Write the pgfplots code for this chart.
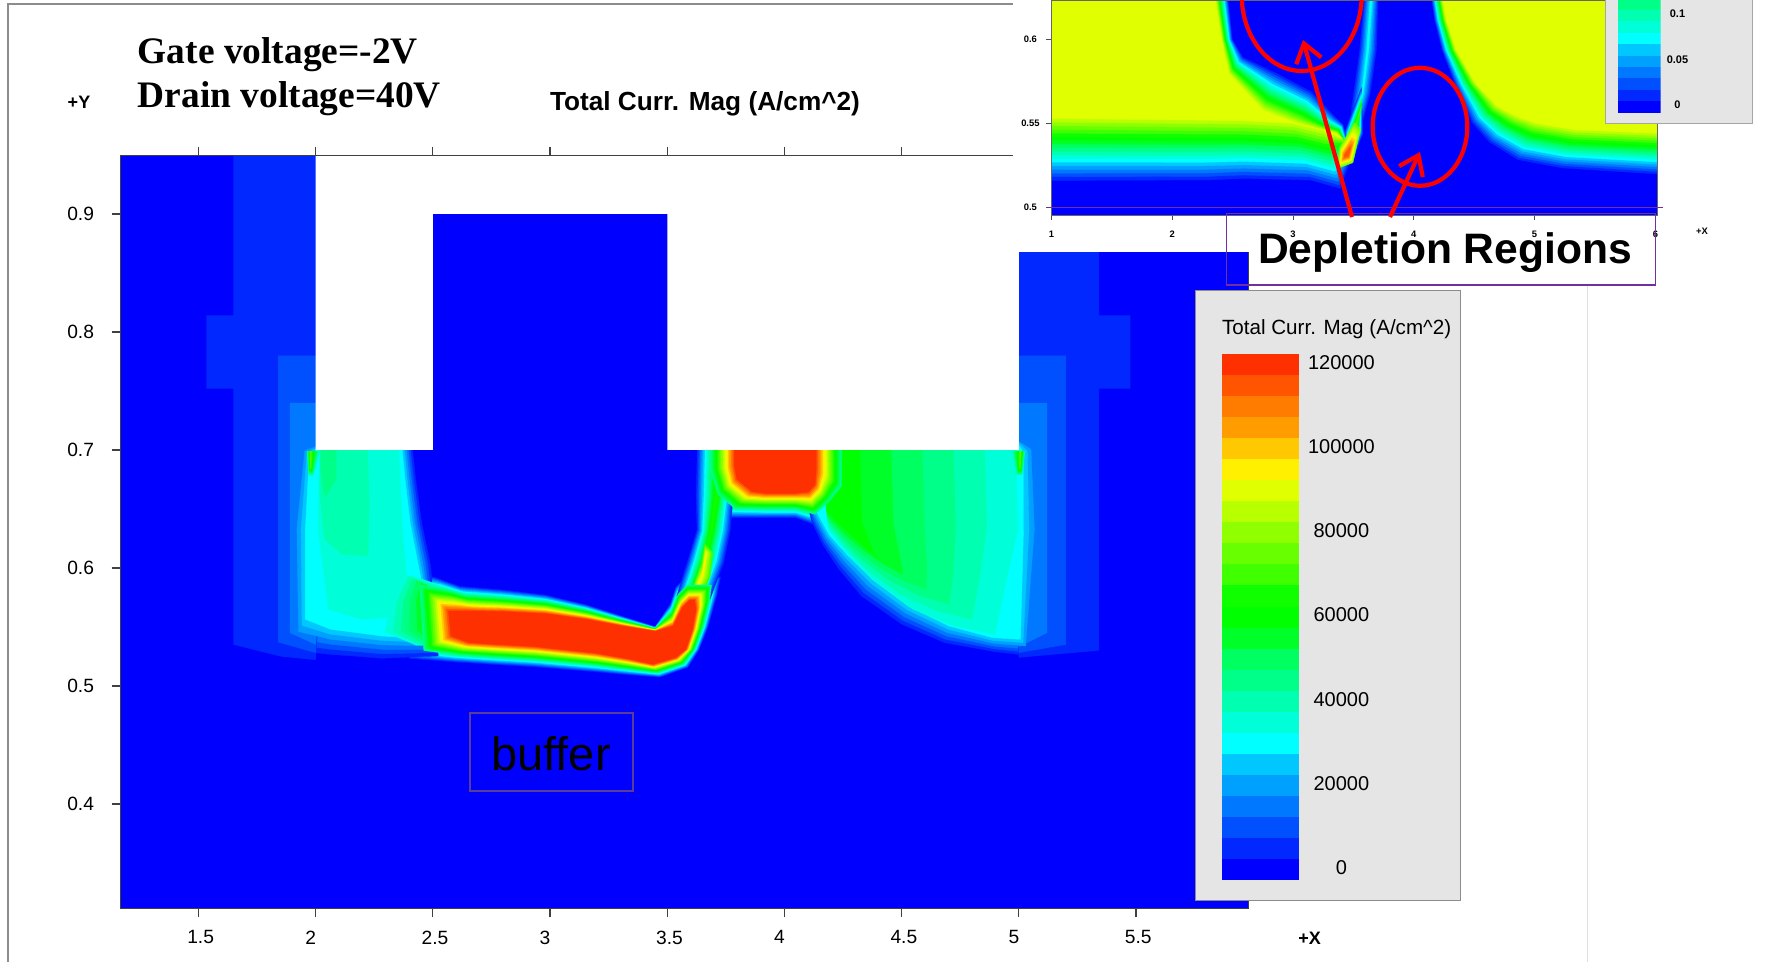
\documentclass[border=0pt]{standalone}
\usepackage{pgfplots}
\pgfplotsset{compat=1.18}
\usepackage{pgfplotstable}
\usepackage{fontspec}
\setmainfont{Liberation Sans}
\newfontfamily\timesb[BoldFont={Liberation Serif Bold}]{Liberation Serif}
\usetikzlibrary{arrows.meta}
% the 25 bands of the colour legend
\definecolor{c0}{HTML}{0000FF}\definecolor{c1}{HTML}{0028FF}\definecolor{c2}{HTML}{0050FF}
\definecolor{c3}{HTML}{0078FF}\definecolor{c4}{HTML}{00A0FF}\definecolor{c5}{HTML}{00C8FF}
\definecolor{c6}{HTML}{00FFFF}\definecolor{c7}{HTML}{00FFD8}\definecolor{c8}{HTML}{00FFB0}
\definecolor{c9}{HTML}{00FF88}\definecolor{c10}{HTML}{00FF60}\definecolor{c11}{HTML}{00FF28}
\definecolor{c12}{HTML}{00FF00}\definecolor{c13}{HTML}{10FF00}\definecolor{c14}{HTML}{40FF00}
\definecolor{c15}{HTML}{68FF00}\definecolor{c16}{HTML}{90FF00}\definecolor{c17}{HTML}{B8FF00}
\definecolor{c18}{HTML}{E0FF00}\definecolor{c19}{HTML}{FFF000}\definecolor{c20}{HTML}{FFC800}
\definecolor{c21}{HTML}{FF9C00}\definecolor{c22}{HTML}{FF7C00}\definecolor{c23}{HTML}{FF5500}
\definecolor{c24}{HTML}{FF3000}
\definecolor{purp}{HTML}{7030A0}
\definecolor{boxpurp}{HTML}{5A3C9C}
\pgfplotstableset{header=false}
% contour pairs: outer contour (col 1,2), inner contour (col 3,4)
\pgfplotstableread{
240 420 330 545
300 440 360 545
350 468 380 545
440 480 440 547
520 495 520 553
600 525 600 570
670 560 670 590
735 592 735 606
765 520 770 590
775 470 788 535
795 440 803 512
865 440 812 512
858 490 815 540
840 590 808 600
822 660 795 660
800 715 775 685
745 745 730 705
680 738 680 688
620 730 620 672
500 715 500 652
420 708 420 645
340 700 370 640
250 690 335 620
}\chan
\pgfplotstableread{
270 440 300 490
310 460 320 500
310 650 320 635
260 650 300 635
190 610 285 600
205 520 280 510
235 430 285 465
}\chanl
\pgfplotstableread{
815 20 890 20
815 130 890 110
835 220 895 150
870 268 925 187
950 268 950 192
1010 268 1010 192
1055 295 1035 188
1090 250 1048 165
1130 200 1050 120
1130 20 1050 20
}\drain
\pgfplotstableread{
815 20 855 20
812 200 852 200
815 300 842 310
795 400 830 390
775 500 805 500
845 510 810 500
872 400 834 390
885 300 846 310
890 200 858 200
890 20 860 20
}\ridge
\pgfplotstableread{
824 400 830 430
800 510 806 500
825 520 810 500
846 440 826 440
850 370 834 370
832 340 834 370
}\ridgey
\pgfplotstableread{
30 50 58 72
70 30 72 62
262 40 238 40
270 150 245 150
282 280 255 280
300 410 270 400
312 690 300 630
200 700 200 620
100 690 100 600
10 680 50 570
0 300 50 300
}\leftblock
\pgfplotstableread{
78 40 85 40
232 40 110 40
240 300 110 150
255 560 90 200
160 570 85 180
95 540 80 120
75 300 80 60
}\leftin
\pgfplotstableread{
1020 30 1020 30
1020 150 1030 150
1040 285 1050 245
1060 350 1075 315
1090 425 1110 375
1135 510 1160 450
1215 595 1230 530
1300 650 1310 590
1400 675 1395 625
1480 690 1450 630
1520 300 1456 300
1500 40 1456 70
1440 30 1440 30
}\rightblock
\pgfplotstableread{
1065 30 1065 30
1440 30 1135 30
1445 300 1140 280
1420 470 1165 380
1400 615 1175 390
1320 590 1150 360
1240 540 1120 320
1160 450 1095 285
1110 370 1080 260
1075 300 1070 245
}\rightin
\pgfplotstableread{
52 66 60 66
56 140 60 115
66 140 60 115
80 66 60 66
}\cornerl
\pgfplotstableread{
1432 66 1450 66
1442 140 1449 115
1454 140 1449 115
1460 66 1450 66
}\cornerr
% inset contour pairs
\pgfplotstableread{
90 -20 90 -20
468 -20 440 -20
478 120 455 120
500 170 470 220
570 215 540 330
640 270 610 370
690 350 650 385
704 372 690 400
722 470 702 415
700 575 660 390
640 550 600 370
500 545 500 362
430 550 400 360
90 552 90 355
}\inleft
\pgfplotstableread{
882 -20 905 -20
890 60 915 60
905 150 935 150
930 250 975 250
965 370 1020 320
1000 430 1060 350
1060 485 1100 370
1150 510 1180 390
1360 530 1360 400
1360 -20 1360 -20
}\inright
\pgfplotstableread{
745 -20 760 -20
735 150 752 150
722 280 742 280
715 370 730 370
745 370 730 370
762 280 745 280
775 150 756 150
778 -20 764 -20
}\inrA
\pgfplotstableread{
741 260 741 320
705 400 725 390
695 470 712 470
722 490 712 470
745 400 730 390
}\inrB
\pgfplotstableread{
728 360 718 440
695 440 706 465
690 510 706 472
725 490 714 470
742 380 720 440
}\inrC
% #1 table, levels #2..#3 drawn, the outer contour being level #4 and the inner one level #5
\newcommand\mm[5]{\pgfplotsinvokeforeach{#2,...,#3}{%
 \addplot[draw=c##1,line width=0.2pt,fill=c##1] table[
  x expr={2+(\thisrowno{0}+(\thisrowno{2}-\thisrowno{0})*(##1-#4)/(#5-#4)-70)/459},
  y expr={0.7-(\thisrowno{1}+(\thisrowno{3}-\thisrowno{1})*(##1-#4)/(#5-#4)-62)/3540}]{#1} --cycle;}}
\newcommand\mi[5]{\pgfplotsinvokeforeach{#2,...,#3}{%
 \addplot[draw=c##1,line width=0.2pt,fill=c##1] table[
  x expr={1+(\thisrowno{0}+(\thisrowno{2}-\thisrowno{0})*(##1-#4)/(#5-#4)-106)/247.5},
  y expr={0.6-(\thisrowno{1}+(\thisrowno{3}-\thisrowno{1})*(##1-#4)/(#5-#4)-118)/5040}]{#1} --cycle;}}
\begin{document}
\begin{tikzpicture}
\path[use as bounding box] (0,0) rectangle (883.5pt,481pt);
\clip (0,0) rectangle (883.5pt,481pt);
\fill[white] (0,0) rectangle (883.5pt,481pt);
\begin{scope}[x=0.5pt,y=-0.5pt,shift={(0pt,481pt)}]
\draw[black!45,line width=1pt] (8,962) -- (8,4) -- (1013,4);
\draw[black!12,line width=0.5pt] (1587,285) -- (1587,962);
\end{scope}
% ---- main map
\begin{axis}[at={(60.3pt,26.8pt)},anchor=south west,scale only axis,width=564pt,height=376.4pt,
 xmin=1.168,xmax=5.98,ymin=0.3115,ymax=0.9495,axis on top,
 axis line style={draw=black!75,line width=0.7pt},
 tick style={draw=black!75,line width=0.6pt},major tick length=4.5pt,tick align=outside,
 xtick={1.5,2,2.5,3,3.5,4,4.5,5,5.5},xtick pos=both,xticklabel pos=lower,
 xticklabels={\kern2.2pt 1.5,2\kern5pt,\kern2.2pt 2.5,3\kern5pt,\kern2.2pt 3.5,4\kern5pt,\kern2.2pt 4.5,5\kern5pt,\kern2.2pt 5.5},
 ytick={0.4,0.5,0.6,0.7,0.8,0.9},ytick pos=left,
 yticklabels={0.4,0.5,0.6,0.7,0.8,0.9},
 tick label style={font=\fontsize{9.6}{10}\selectfont},
 xticklabel style={anchor=center,yshift=-10pt},
 yticklabel style={anchor=center,xshift=-15.5pt}]
\addplot[fill=c0,draw=none] coordinates {(1.1,0.3)(6,0.3)(6,1)(1.1,1)} --cycle;
% low levels of the hot regions
\mm{\chan}{1}{8}{0}{24}
\mm{\drain}{1}{8}{0}{24}
\mm{\leftblock}{1}{3}{0}{6}
\mm{\rightblock}{1}{3}{0}{6}
% outer shades
\addplot[fill=c1,draw=none] coordinates {(1.649,0.96)(1.649,0.814)(1.534,0.814)(1.534,0.752)(1.649,0.752)(1.649,0.535)(1.85,0.525)(2,0.522)(2.03,0.6)(2.03,0.96)} --cycle;
\addplot[fill=c1,draw=none] coordinates {(4.97,0.96)(5.341,0.96)(5.341,0.814)(5.476,0.814)(5.476,0.752)(5.341,0.752)(5.341,0.53)(5,0.524)(4.97,0.6)} --cycle;
\addplot[fill=c2,draw=none] coordinates {(1.84,0.78)(2.03,0.78)(2.03,0.6)(2,0.528)(1.84,0.537)} --cycle;
\addplot[fill=c2,draw=none] coordinates {(4.97,0.78)(5.2,0.78)(5.2,0.535)(5,0.528)(4.97,0.6)} --cycle;
\addplot[fill=c3,draw=none] coordinates {(1.89,0.74)(2.03,0.74)(2.03,0.6)(2,0.535)(1.89,0.545)} --cycle;
\addplot[fill=c3,draw=none] coordinates {(4.97,0.74)(5.12,0.74)(5.12,0.545)(5,0.533)(4.97,0.6)} --cycle;
% side blocks
\mm{\leftblock}{4}{6}{0}{6}
\mm{\rightblock}{4}{6}{0}{6}
\mm{\leftin}{7}{9}{7}{9}
\mm{\chanl}{7}{12}{6}{12}
\mm{\rightin}{7}{12}{7}{12}
\mm{\cornerl}{8}{15}{7}{15}
\mm{\cornerr}{8}{15}{7}{15}
% ridge and hot regions
\mm{\ridge}{1}{13}{0}{13}
\mm{\drain}{9}{24}{0}{24}
\mm{\ridgey}{14}{19}{13}{19}
\mm{\chan}{9}{24}{0}{24}
% regions of the map that are absent
\addplot[fill=white,draw=none] coordinates {(2,0.7)(2.5,0.7)(2.5,0.9)(3.5,0.9)(3.5,0.7)(5,0.7)(5,1)(2,1)} --cycle;
\end{axis}
\begin{scope}[x=0.5pt,y=-0.5pt,shift={(0pt,481pt)}]
\fill[white] (1013,-2) rectangle (1769,252);
\node[anchor=base west,inner sep=0pt,font=\timesb\bfseries\fontsize{18.7}{20}\selectfont] at (137.5,63.5) {Gate voltage=-2V};
\node[anchor=base west,inner sep=0pt,font=\timesb\bfseries\fontsize{18.7}{20}\selectfont] at (137.5,107.5) {Drain voltage=40V};
\node[font=\bfseries\fontsize{13.1}{14}\selectfont] at (705,103.5) {Total Curr. Mag (A/cm\^{}2)};
\node[font=\bfseries\fontsize{9}{10}\selectfont] at (79,102.5) {+Y};
\node[font=\bfseries\fontsize{9}{10}\selectfont] at (1309.6,938.8) {+X};
\draw[draw=boxpurp,line width=1.3pt] (470,713) rectangle (633,791);
\node[font=\fontsize{23.5}{26}\selectfont] at (551,754) {buffer};
\end{scope}
% ---- inset map
\begin{axis}[at={(525.7pt,373.5pt)},anchor=south west,scale only axis,width=303.2pt,height=107.5pt,
 xmin=1,xmax=6.02,ymin=0.4955,ymax=0.6234,axis on top,
 axis line style={draw=black!60,line width=0.4pt},
 tick style={draw=black!70,line width=0.4pt},major tick length=2.5pt,tick align=outside,
 xtick={1,2,3,4,5,6},xticklabels={1,2,3,4,5,6},xtick pos=lower,
 ytick={0.5,0.55,0.6},yticklabels={0.5,0.55,0.6},ytick pos=left,
 tick label style={font=\bfseries\fontsize{4.7}{5}\selectfont},
 xticklabel style={yshift=-2pt},yticklabel style={anchor=center,xshift=-8pt}]
\addplot[fill=c0,draw=none] coordinates {(0.9,0.4)(6.1,0.4)(6.1,0.7)(0.9,0.7)} --cycle;
\mi{\inrA}{1}{6}{0}{6}
\mi{\inrB}{1}{8}{0}{14}
\mi{\inleft}{1}{18}{0}{18}
\mi{\inright}{1}{18}{0}{18}
\mi{\inrB}{9}{14}{0}{14}
\mi{\inrC}{15}{23}{14}{23}
\end{axis}
\begin{scope}[x=0.5pt,y=-0.5pt,shift={(0pt,481pt)}]
\draw[purp,line width=0.7pt] (1048,207.3) -- (1663,207.3);
\draw[purp,line width=0.8pt] (1226.5,213.7) rectangle (1655.6,285);
\node[font=\bfseries\fontsize{21.3}{24}\selectfont] at (1445,253) {Depletion Regions};
\fill[black!10] (1605.7,-2) rectangle (1752,124);
\draw[black!35,line width=0.5pt] (1605.7,-2) rectangle (1752,124);
\fill[black!10,draw=black!45,line width=0.5pt] (1195.7,291) rectangle (1460.6,900.5);
\node[anchor=base west,inner sep=0pt,font=\fontsize{10.3}{12}\selectfont] at (1221.7,335) {Total Curr. Mag (A/cm\^{}2)};
\draw[red,line width=2.1pt] (1301.7,-5) ellipse [x radius=60,y radius=76];
\draw[red,line width=2.1pt] (1420,126.8) ellipse [x radius=47.3,y radius=59];
\draw[red,line width=2.1pt,-{Straight Barb[length=9pt,width=13pt]}] (1352,217) -- (1303,40);
\draw[red,line width=2.1pt,-{Straight Barb[length=9pt,width=13pt]}] (1390,217) -- (1420,152);
\end{scope}
% ---- colour legends
\begin{axis}[at={(610.85pt,40.9pt)},anchor=south west,scale only axis,width=38.85pt,height=263.15pt,
 xmin=0,xmax=1,ymin=0,ymax=25,axis line style={draw=none},xtick=\empty,
 ytick={0.6,4.6,8.6,12.6,16.6,20.6,24.6},yticklabels={0,20000,40000,60000,80000,100000,120000},
 ytick pos=right,yticklabel pos=right,major tick length=0pt,
 tick label style={font=\fontsize{10}{12}\selectfont},
 yticklabel style={anchor=center,xshift=21pt}]
\pgfplotsinvokeforeach{0,...,24}{\addplot[fill=c#1,draw=none] coordinates {(0,#1)(1,#1)(1,#1+1)(0,#1+1)} --cycle;}
\end{axis}
\begin{axis}[at={(809pt,424.65pt)},anchor=south west,scale only axis,width=21.25pt,height=57pt,
 xmin=0,xmax=1,ymin=0,ymax=10,axis line style={draw=none},xtick=\empty,
 ytick={0.68,4.68,8.72},yticklabels={0,0.05,0.1},
 ytick pos=right,yticklabel pos=right,major tick length=0pt,
 tick label style={font=\bfseries\fontsize{5.5}{6}\selectfont},
 yticklabel style={anchor=center,xshift=8.5pt}]
\pgfplotsinvokeforeach{0,...,9}{\addplot[fill=c#1,draw=none] coordinates {(0,#1)(1,#1)(1,#1+1)(0,#1+1)} --cycle;}
\end{axis}
\begin{scope}[x=0.5pt,y=-0.5pt,shift={(0pt,481pt)}]
\node[font=\bfseries\fontsize{4.7}{5}\selectfont] at (1702,231) {+X};
\end{scope}
\end{tikzpicture}
\end{document}
